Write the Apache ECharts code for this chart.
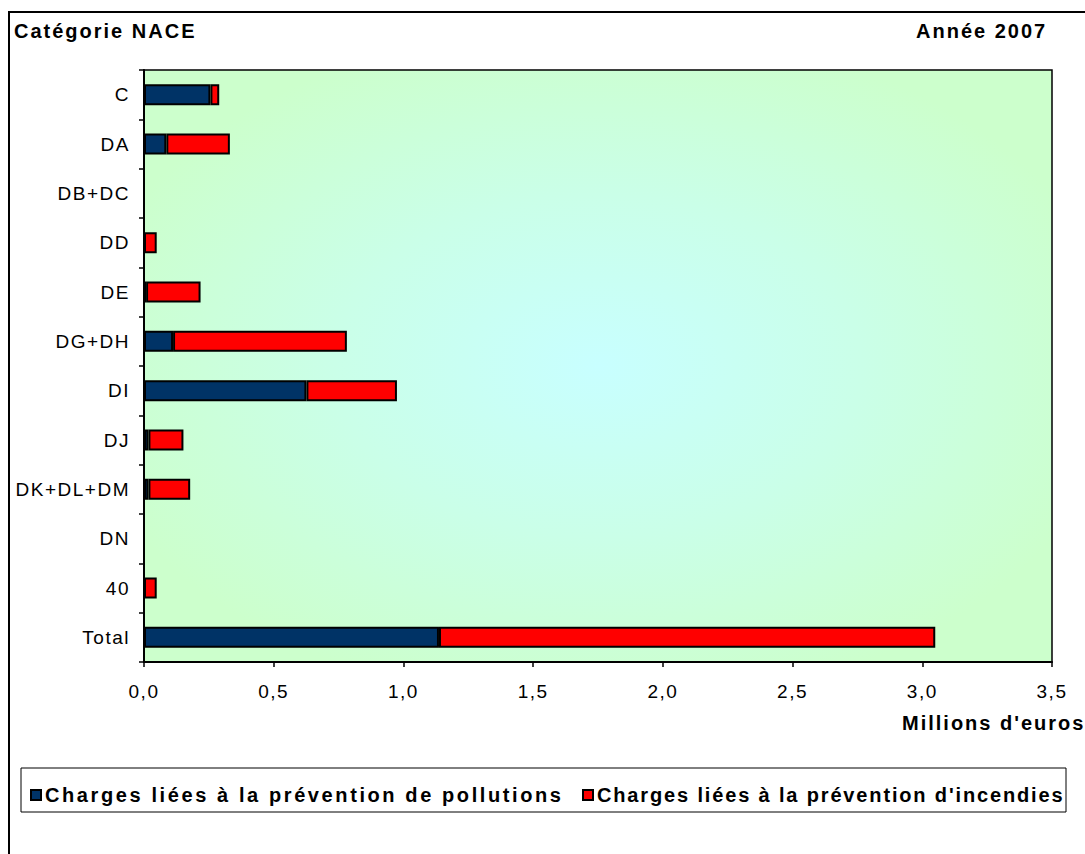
<!DOCTYPE html>
<html><head><meta charset="utf-8">
<script src="https://cdn.jsdelivr.net/npm/echarts@6/dist/echarts.min.js"></script>
<style>
html,body{margin:0;padding:0;background:#fff;}
#c{width:1085px;height:854px;}
#c text{letter-spacing:1.5px;}
</style></head><body><div id="c"></div>
<script>
const categories = ['C','DA','DB+DC','DD','DE','DG+DH','DI','DJ','DK+DL+DM','DN','40','Total'];
const pollution = [0.256,0.086,0,0,0.008,0.112,0.626,0.017,0.017,0,0,1.137];
const incendies = [0.034,0.245,0,0.049,0.210,0.670,0.349,0.135,0.161,0,0.049,1.913];
const seriesNames = ['Charges liées à la prévention de pollutions','Charges liées à la prévention d\'incendies'];
const xMin = 0, xMax = 3.5, xStep = 0.5;
const FONT = "'Liberation Sans', Arial, sans-serif";

const chart = echarts.init(document.getElementById('c'), null, {renderer:'svg'});
chart.setOption({
  animation:false,
  grid:{left:144,right:33,top:70,bottom:192,show:true,borderColor:'#000',borderWidth:1.5,
    backgroundColor:new echarts.graphic.RadialGradient(0.5,0.5,0.58,[{offset:0,color:'#c8ffff'},{offset:0.5,color:'#caffe8'},{offset:1,color:'#ccffcc'}])},
  xAxis:{type:'value',min:xMin,max:xMax,interval:xStep,
    axisLine:{show:true,lineStyle:{color:'#000',width:2}},
    axisTick:{show:true,length:5,lineStyle:{color:'#000',width:1.5}},
    splitLine:{show:false},
    axisLabel:{color:'#000',fontSize:19,fontFamily:FONT,margin:20,formatter:v=>v.toFixed(1).replace('.',',')}},
  yAxis:{type:'category',data:categories,inverse:true,
    axisLine:{show:true,lineStyle:{color:'#000',width:2}},
    axisTick:{show:true,length:5,lineStyle:{color:'#000',width:1.5}},
    axisLabel:{color:'#000',fontSize:19,fontFamily:FONT,margin:14}},
  legend:[
    {data:[seriesNames[0]],left:25,top:780,icon:'rect',itemWidth:10,itemHeight:10,itemGap:6,
     textStyle:{color:'#000',fontSize:20,fontWeight:'bold',fontFamily:FONT,padding:[0,0,0,-1]}},
    {data:[seriesNames[1]],left:577,top:780,icon:'rect',itemWidth:10,itemHeight:10,itemGap:6,
     textStyle:{color:'#000',fontSize:20,fontWeight:'bold',fontFamily:FONT,padding:[0,0,0,-1]}}
  ],
  graphic:[
    {type:'rect',z:-10,shape:{x:9,y:12,width:1100,height:900},style:{fill:'none',stroke:'#000',lineWidth:2}},
    {type:'rect',z:-5,shape:{x:21,y:768,width:1045,height:44},style:{fill:'#fff',stroke:'#000',lineWidth:1}},
    {type:'text',left:14,top:21,style:{text:'Catégorie NACE',font:"bold 20px "+FONT,fill:'#000'}},
    {type:'text',left:916,top:21,style:{text:'Année 2007',font:"bold 20px "+FONT,fill:'#000'}},
    {type:'text',left:902,top:713,style:{text:'Millions d\'euros',font:"bold 20px "+FONT,fill:'#000'}}
  ],
  series:[
    {name:seriesNames[0],type:'bar',stack:'s',barWidth:21,data:pollution,
     itemStyle:{color:'#003366',borderColor:'#000',borderWidth:2}},
    {name:seriesNames[1],type:'bar',stack:'s',barWidth:21,data:incendies,
     itemStyle:{color:'#ff0000',borderColor:'#000',borderWidth:2}}
  ]
});
function spacing(){
  document.querySelectorAll('#c text').forEach(el=>{
    const t = el.textContent || '';
    const bold = /bold|700/.test(getComputedStyle(el).fontWeight) || /bold/.test(el.getAttribute('style')||'');
    if (t === seriesNames[0]) el.style.letterSpacing='2.6px';
    else if (t === seriesNames[1]) el.style.letterSpacing='1.85px';
    else if (bold) el.style.letterSpacing='2.0px';
    else el.style.letterSpacing='1.5px';
  });
}
spacing();
chart.on('finished', spacing);
setTimeout(spacing, 50);
</script></body></html>
